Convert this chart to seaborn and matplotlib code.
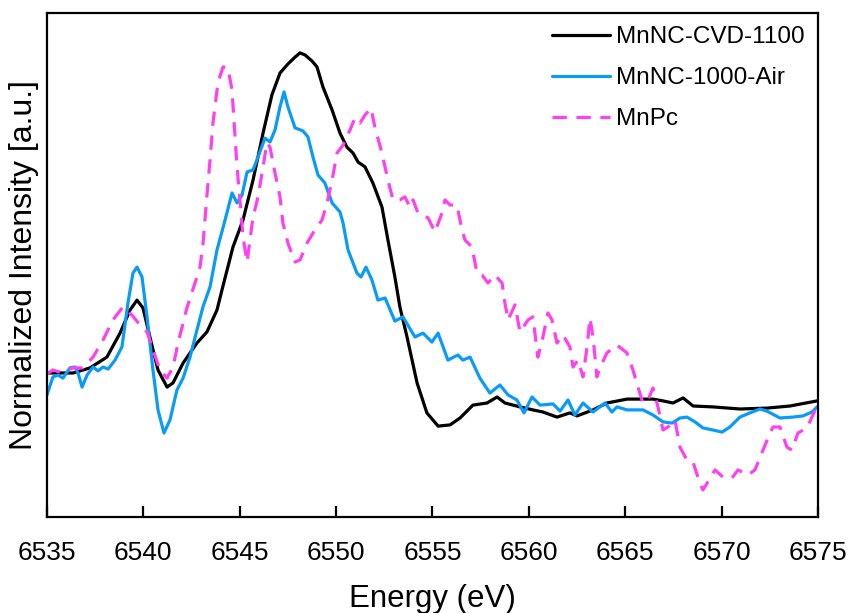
"""Mn K-edge XANES comparison plot."""

import matplotlib

matplotlib.use("Agg")
import matplotlib.pyplot as plt
import numpy as np
import pandas as pd
import seaborn as sns

# MnNC-CVD-1100
cvd_energy = [
    6535.00, 6536.35, 6537.23, 6538.11, 6538.79, 6539.31, 6539.67, 6539.98, 6540.34, 6540.76,
    6541.23, 6541.54, 6542.06, 6542.78, 6543.30, 6543.82, 6544.08, 6544.65, 6545.17, 6545.69,
    6546.21, 6546.67, 6547.09, 6547.50, 6547.87, 6548.13, 6548.39, 6548.75, 6549.01, 6549.32,
    6549.79, 6550.20, 6550.56, 6550.88, 6551.14, 6551.50, 6551.91, 6552.38, 6552.69, 6553.05,
    6553.31, 6553.68, 6554.20, 6554.71, 6555.29, 6555.91, 6556.43, 6557.10, 6557.83, 6558.35,
    6558.76, 6559.54, 6560.21, 6560.73, 6561.46, 6562.13, 6562.50, 6563.33, 6564.05, 6565.09,
    6566.44, 6566.96, 6567.48, 6568.00, 6568.52, 6569.55, 6570.95, 6572.35, 6573.55, 6574.95,
]
cvd_intensity = [
    0.480, 0.480, 0.497, 0.533, 0.613, 0.690, 0.723, 0.697, 0.600, 0.490,
    0.433, 0.447, 0.513, 0.580, 0.617, 0.690, 0.757, 0.900, 0.990, 1.123,
    1.280, 1.407, 1.480, 1.510, 1.533, 1.547, 1.540, 1.520, 1.500, 1.433,
    1.357, 1.280, 1.233, 1.213, 1.183, 1.167, 1.113, 1.033, 0.923, 0.800,
    0.700, 0.600, 0.447, 0.347, 0.303, 0.307, 0.330, 0.373, 0.380, 0.400,
    0.380, 0.367, 0.357, 0.350, 0.333, 0.347, 0.337, 0.357, 0.380, 0.393,
    0.393, 0.387, 0.380, 0.397, 0.370, 0.367, 0.360, 0.363, 0.370, 0.387,
]

# MnNC-1000-Air
air_energy = [
    6535.00, 6535.31, 6535.57, 6535.83, 6536.19, 6536.45, 6536.61, 6536.82, 6537.08, 6537.39,
    6537.65, 6537.91, 6538.17, 6538.53, 6538.89, 6539.20, 6539.46, 6539.67, 6539.93, 6540.19,
    6540.50, 6540.76, 6541.07, 6541.38, 6541.74, 6542.06, 6542.42, 6542.78, 6543.09, 6543.46,
    6543.82, 6544.24, 6544.60, 6544.86, 6545.12, 6545.38, 6545.69, 6545.95, 6546.31, 6546.57,
    6546.83, 6547.09, 6547.30, 6547.50, 6547.87, 6548.28, 6548.54, 6548.80, 6549.06, 6549.42,
    6549.79, 6550.20, 6550.36, 6550.62, 6551.08, 6551.29, 6551.55, 6551.86, 6552.17, 6552.54,
    6553.05, 6553.47, 6554.09, 6554.51, 6554.97, 6555.29, 6555.80, 6556.32, 6556.58, 6556.95,
    6557.46, 6557.98, 6558.50, 6558.92, 6559.38, 6559.75, 6560.16, 6560.58, 6561.25, 6561.62,
    6562.03, 6562.39, 6562.81, 6563.33, 6563.95, 6564.31, 6564.57, 6565.09, 6565.92, 6566.44,
    6566.96, 6567.43, 6567.84, 6568.20, 6568.62, 6569.03, 6569.55, 6570.02, 6570.43, 6570.95,
    6571.47, 6571.99, 6572.35, 6573.03, 6573.70, 6574.22, 6574.69, 6574.95,
]
air_intensity = [
    0.407, 0.467, 0.473, 0.463, 0.497, 0.500, 0.480, 0.433, 0.473, 0.500,
    0.487, 0.500, 0.493, 0.523, 0.567, 0.713, 0.813, 0.833, 0.800, 0.667,
    0.490, 0.357, 0.280, 0.323, 0.423, 0.463, 0.533, 0.623, 0.700, 0.767,
    0.890, 0.990, 1.080, 1.047, 1.073, 1.150, 1.157, 1.200, 1.263, 1.250,
    1.290, 1.367, 1.417, 1.367, 1.297, 1.287, 1.267, 1.200, 1.140, 1.113,
    1.047, 1.017, 0.980, 0.890, 0.813, 0.800, 0.833, 0.790, 0.723, 0.730,
    0.653, 0.667, 0.600, 0.613, 0.583, 0.613, 0.523, 0.540, 0.523, 0.533,
    0.463, 0.413, 0.440, 0.407, 0.390, 0.347, 0.400, 0.373, 0.377, 0.353,
    0.390, 0.340, 0.380, 0.350, 0.380, 0.350, 0.367, 0.357, 0.357, 0.340,
    0.317, 0.313, 0.330, 0.333, 0.317, 0.297, 0.290, 0.283, 0.300, 0.333,
    0.347, 0.360, 0.353, 0.330, 0.333, 0.337, 0.350, 0.367,
]

# MnPc
pc_energy = [
    6535.00, 6535.31, 6535.67, 6536.35, 6536.87, 6537.39, 6537.91, 6538.42, 6538.94, 6539.41,
    6539.83, 6540.19, 6540.50, 6540.86, 6541.23, 6541.54, 6541.80, 6542.26, 6542.68, 6542.94,
    6543.09, 6543.30, 6543.46, 6543.61, 6543.87, 6544.13, 6544.39, 6544.60, 6544.86, 6545.01,
    6545.17, 6545.38, 6545.53, 6545.69, 6545.95, 6546.21, 6546.41, 6546.57, 6546.83, 6547.09,
    6547.24, 6547.50, 6547.87, 6548.13, 6548.49, 6548.90, 6549.27, 6549.53, 6549.79, 6550.05,
    6550.36, 6550.72, 6550.98, 6551.24, 6551.50, 6551.81, 6552.02, 6552.38, 6552.69, 6552.95,
    6553.31, 6553.57, 6553.83, 6553.99, 6554.25, 6554.77, 6555.13, 6555.49, 6555.65, 6555.91,
    6556.27, 6556.53, 6556.69, 6557.05, 6557.31, 6557.57, 6557.88, 6558.24, 6558.61, 6558.76,
    6558.92, 6559.28, 6559.54, 6559.96, 6560.21, 6560.47, 6560.73, 6560.99, 6561.20, 6561.46,
    6561.77, 6562.13, 6562.29, 6562.55, 6562.81, 6563.02, 6563.17, 6563.33, 6563.53, 6563.69,
    6564.05, 6564.57, 6565.09, 6565.40, 6565.66, 6565.92, 6566.18, 6566.44, 6566.70, 6566.96,
    6567.22, 6567.58, 6567.84, 6568.20, 6568.52, 6568.77, 6569.03, 6569.29, 6569.66, 6570.07,
    6570.54, 6570.85, 6571.37, 6571.73, 6572.15, 6572.51, 6572.67, 6573.03, 6573.39, 6573.65,
    6573.96, 6574.43, 6574.90,
]
pc_intensity = [
    0.477, 0.490, 0.483, 0.497, 0.497, 0.533, 0.590, 0.657, 0.700, 0.673,
    0.640, 0.617, 0.557, 0.490, 0.463, 0.500, 0.580, 0.697, 0.780, 0.833,
    0.907, 1.073, 1.190, 1.313, 1.447, 1.500, 1.497, 1.423, 1.167, 1.057,
    0.933, 0.850, 0.923, 1.000, 1.067, 1.167, 1.247, 1.233, 1.147, 1.067,
    0.980, 0.913, 0.850, 0.857, 0.913, 0.957, 0.990, 1.047, 1.123, 1.213,
    1.240, 1.290, 1.330, 1.313, 1.340, 1.363, 1.297, 1.213, 1.123, 1.057,
    1.057, 1.067, 1.033, 1.057, 1.013, 0.997, 0.950, 1.013, 1.057, 1.040,
    1.040, 0.957, 0.923, 0.900, 0.813, 0.807, 0.780, 0.807, 0.780, 0.713,
    0.657, 0.707, 0.617, 0.657, 0.667, 0.533, 0.600, 0.680, 0.657, 0.580,
    0.607, 0.567, 0.500, 0.523, 0.467, 0.567, 0.663, 0.600, 0.467, 0.497,
    0.547, 0.573, 0.547, 0.490, 0.433, 0.380, 0.390, 0.430, 0.367, 0.290,
    0.300, 0.323, 0.233, 0.190, 0.183, 0.133, 0.090, 0.117, 0.157, 0.133,
    0.130, 0.157, 0.140, 0.157, 0.223, 0.280, 0.300, 0.300, 0.233, 0.223,
    0.280, 0.297, 0.363,
]

x_ticks = [6535, 6540, 6545, 6550, 6555, 6560, 6565, 6570, 6575]

sns.set_style("ticks")
plt.rcParams["font.family"] = ["Liberation Sans", "DejaVu Sans"]
plt.rcParams["text.color"] = "black"
plt.rcParams["axes.labelcolor"] = "black"
plt.rcParams["xtick.color"] = "black"

fig = plt.figure(figsize=(8.51, 6.13), dpi=100)
ax = fig.add_axes([0.0552, 0.1566, 0.9060, 0.8222])

series = [
    ("MnNC-CVD-1100", cvd_energy, cvd_intensity, "#000000", ""),
    ("MnNC-1000-Air", air_energy, air_intensity, "#0A9BF7", ""),
    ("MnPc", pc_energy, pc_intensity, "#FF40F2", (4.5, 3.0)),
]
for name, energy, intensity, color, dash in series:
    frame = pd.DataFrame({"Energy": energy, "Intensity": intensity})
    sns.lineplot(
        data=frame, x="Energy", y="Intensity", ax=ax, color=color,
        linewidth=2.3, sort=False, estimator=None, label=name,
        dashes=False,
    )
    if dash:
        ax.lines[-1].set_dashes(dash)

ax.set_xlim(6535, 6575)
ax.set_ylim(0, 1.68)
ax.set_xticks(x_ticks)
ax.set_xticklabels([str(t) for t in x_ticks])
ax.set_yticks([])
ax.tick_params(axis="x", direction="in", length=8, width=1.6, labelsize=19, pad=17)
for spine in ax.spines.values():
    spine.set_linewidth(1.6)
    spine.set_color("black")

ax.set_xlabel("Energy (eV)", fontsize=22.5, labelpad=14)
ax.set_ylabel("Normalized Intensity [a.u.]", fontsize=23, labelpad=6)

leg = ax.legend(
    loc="upper right", frameon=False, fontsize=17.5, handlelength=2.4,
    handletextpad=0.25, labelspacing=0.78, borderaxespad=0.15,
)
for line in leg.get_lines():
    line.set_linewidth(2.3)

fig.savefig("out.png", dpi=100)
